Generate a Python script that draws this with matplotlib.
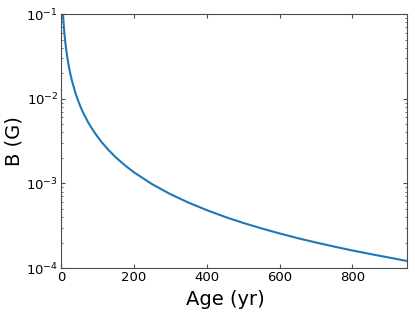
import numpy as np
import matplotlib
matplotlib.use("Agg")
import matplotlib.pyplot as plt

# age (yr) and field strength (G)
age = [5, 6, 8, 10, 13, 16, 20, 25, 30, 40, 50, 60, 75, 90, 110, 130, 150,
       175, 200, 250, 300, 350, 400, 450, 500, 550, 600, 650, 700, 750, 800,
       850, 900, 950]
bfield = [0.1094, 0.0919, 0.0692, 0.0551, 0.04184, 0.03341, 0.02605, 0.02019,
          0.01631, 0.01153, 0.008751, 0.006945, 0.005208, 0.004094, 0.003126,
          0.002486, 0.002036, 0.001638, 0.001353, 9.78e-4, 7.46e-4, 5.92e-4,
          4.83e-4, 4.02e-4, 3.41e-4, 2.94e-4, 2.56e-4, 2.25e-4, 2.00e-4,
          1.79e-4, 1.61e-4, 1.46e-4, 1.33e-4, 1.21e-4]
xticks = [0, 200, 400, 600, 800]

fig = plt.figure(figsize=(4.15, 3.12), dpi=100)
ax = fig.add_axes([0.147, 0.141, 0.834, 0.814])
ax.plot(age, bfield, color="#1f77b4", linewidth=1.5)
ax.set_yscale("log")
ax.set_xlim(0, 950)
ax.set_ylim(1e-4, 1e-1)
ax.set_xticks(xticks)
for s in ax.spines.values():
    s.set_color("0.3")
ax.tick_params(which="both", direction="in", top=True, right=True,
               labelsize=9.5, pad=2, color="0.3")
ax.tick_params(which="major", length=3)
ax.tick_params(which="minor", length=1.5)
ax.set_xlabel("Age (yr)", fontsize=14)
ax.set_ylabel("B (G)", fontsize=14, labelpad=2)
ax.xaxis.set_label_coords(0.475, -0.085)
fig.savefig("out.png", dpi=100)
